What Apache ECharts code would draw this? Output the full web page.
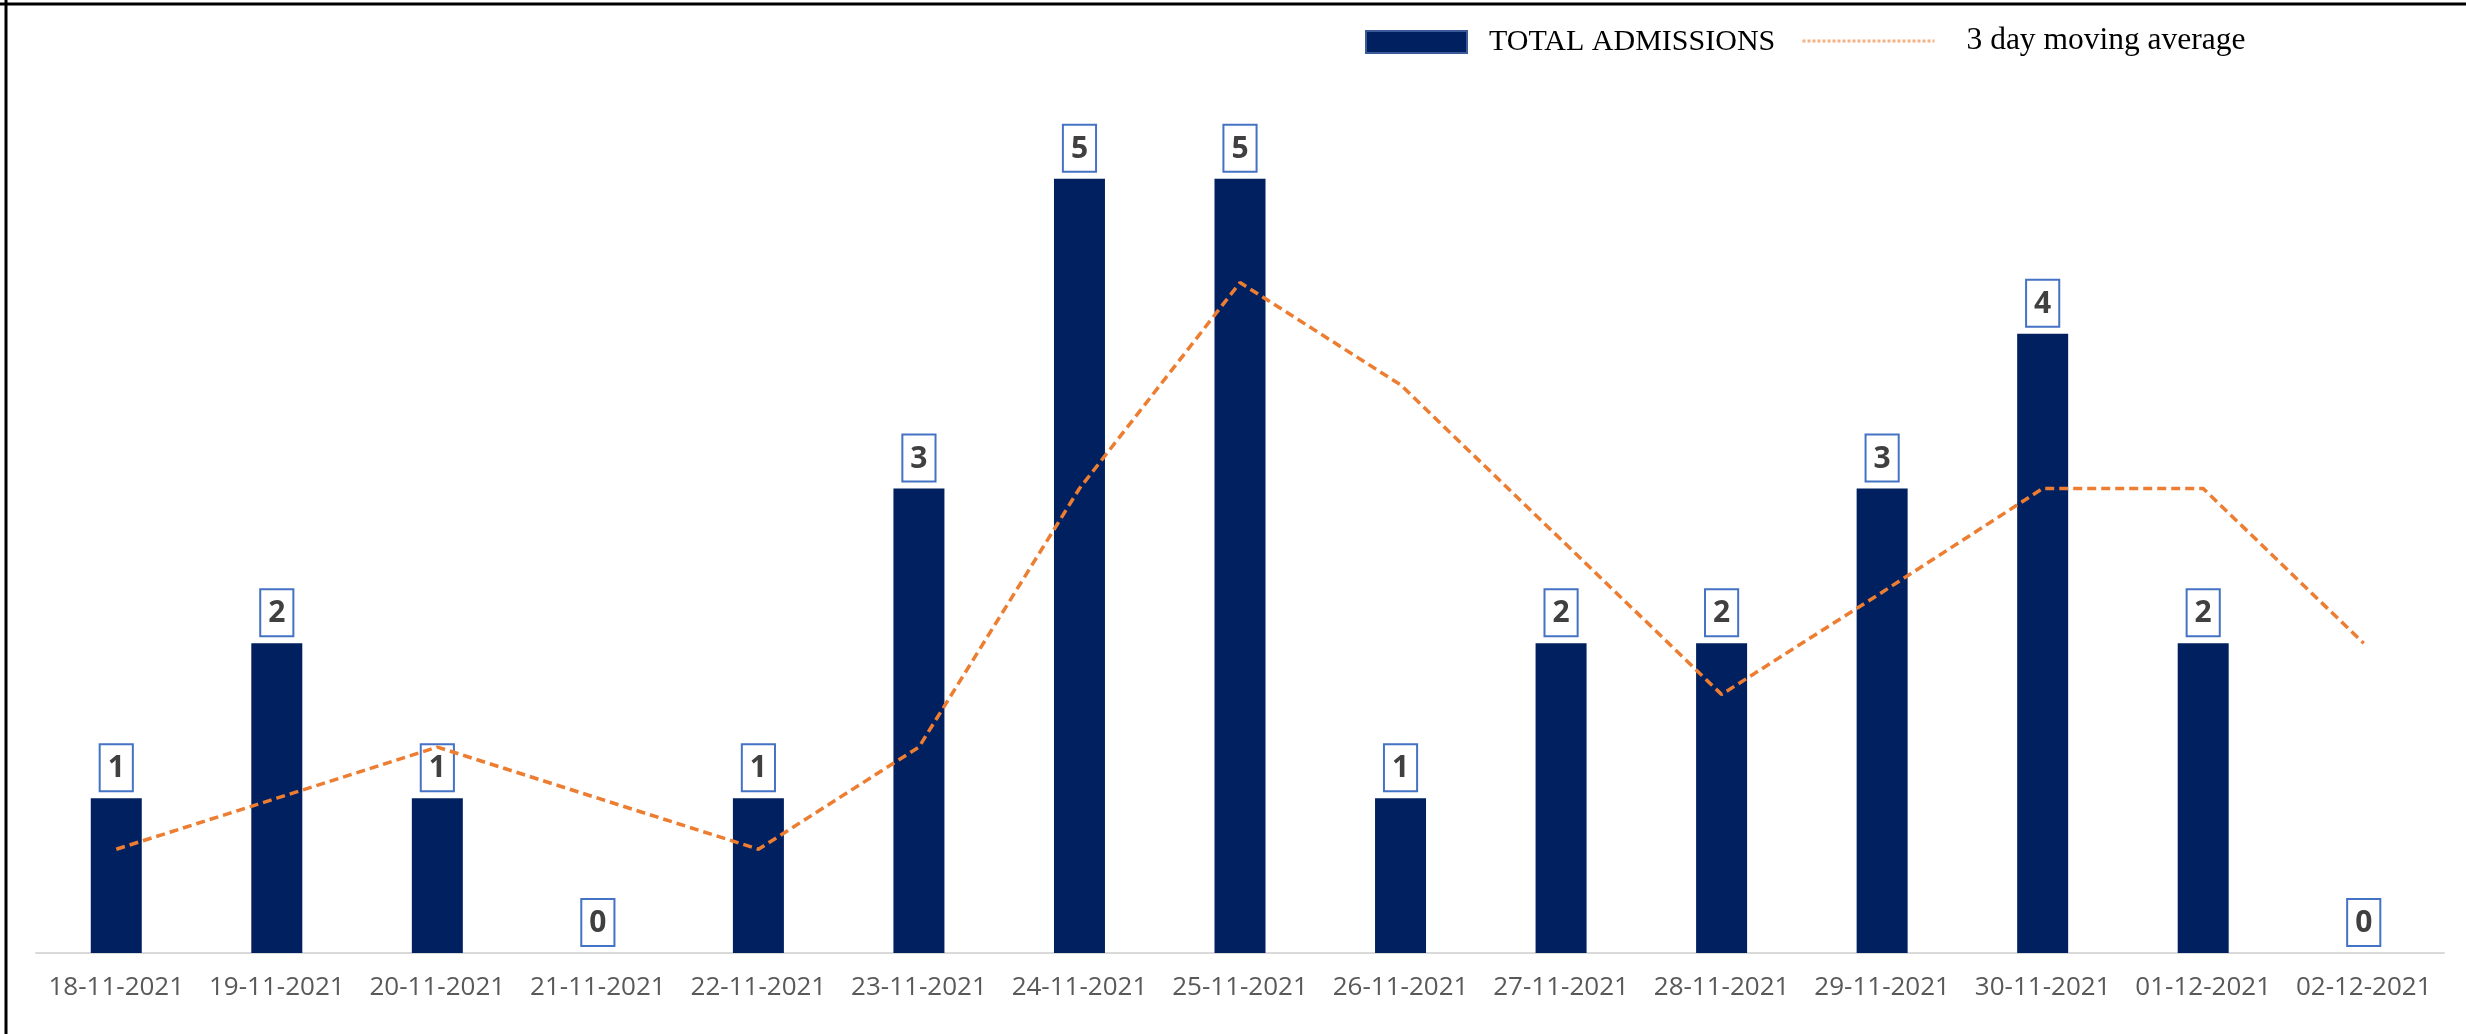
<!DOCTYPE html>
<html>
<head>
<meta charset="utf-8">
<script src="https://cdn.jsdelivr.net/npm/echarts@6/dist/echarts.min.js"></script>
<style>
html,body{margin:0;padding:0;background:#fff;}
#chart{width:2466px;height:1034px;}
</style>
</head>
<body>
<div id="chart"></div>
<script>
var categories = ['18-11-2021','19-11-2021','20-11-2021','21-11-2021','22-11-2021','23-11-2021','24-11-2021','25-11-2021','26-11-2021','27-11-2021','28-11-2021','29-11-2021','30-11-2021','01-12-2021','02-12-2021'];
var admissions = [1,2,1,0,1,3,5,5,1,2,2,3,4,2,0];
var movingAverage = [0.67,1.0,1.33,1.0,0.67,1.33,3.0,4.33,3.67,2.67,1.67,2.33,3.0,3.0,2.0];
var seriesNames = ['TOTAL ADMISSIONS','3 day moving average'];

var chart = echarts.init(document.getElementById('chart'), null, {renderer:'canvas'});
var option = {
  backgroundColor:'#ffffff',
  animation:false,
  grid:{left:36, right:22, top:24, bottom:81, containLabel:false},
  graphic:[
    {type:'line', shape:{x1:0,y1:4,x2:2466,y2:4}, style:{stroke:'#000',lineWidth:3}, z:100},
    {type:'line', shape:{x1:6,y1:0,x2:6,y2:1034}, style:{stroke:'#000',lineWidth:3}, z:100}
  ],
  legend:[
    {
      data:[{name:seriesNames[0], icon:'rect', itemStyle:{color:'#002060', borderColor:'#3A5A9A', borderWidth:2}}],
      left:1360, top:22,
      itemWidth:101, itemHeight:22,
      selectedMode:false,
      textStyle:{fontFamily:'Liberation Serif', fontSize:30, color:'#000', padding:[0,0,0,17]}
    },
    {
      data:[{name:seriesNames[1], lineStyle:{color:'#F4B183', type:[3,2], width:3}, itemStyle:{opacity:0}}],
      left:1796, top:20,
      itemWidth:132, itemHeight:22,
      selectedMode:false,
      textStyle:{fontFamily:'Liberation Serif', fontSize:31.5, color:'#000', padding:[0,0,0,27]}
    }
  ],
  xAxis:{
    type:'category',
    data:categories,
    axisLine:{show:true, lineStyle:{color:'#D9D9D9', width:2}},
    axisTick:{show:false},
    axisLabel:{fontFamily:'Open Sans', fontSize:26, color:'#595959', margin:22, interval:0}
  },
  yAxis:{
    type:'value', min:0, max:6, interval:1,
    show:false,
    splitLine:{show:false}
  },
  series:[
    {
      name:seriesNames[0],
      type:'bar',
      data:admissions,
      barWidth:51,
      itemStyle:{color:'#002060', borderWidth:0},
      label:{
        show:true, position:'top', distance:8,
        fontFamily:'Open Sans', fontWeight:'bold', fontSize:30, lineHeight:31, color:'#404040',
        backgroundColor:'#ffffff', borderColor:'#4472C4', borderWidth:2,
        padding:[8,7,6,7]
      },
      z:2
    },
    {
      name:seriesNames[1],
      type:'line',
      data:movingAverage,
      symbol:'none',
      lineStyle:{color:'#ED7D31', width:3.5, type:[9,5]},
      z:3
    }
  ]
};
chart.setOption(option);
</script>
</body>
</html>
